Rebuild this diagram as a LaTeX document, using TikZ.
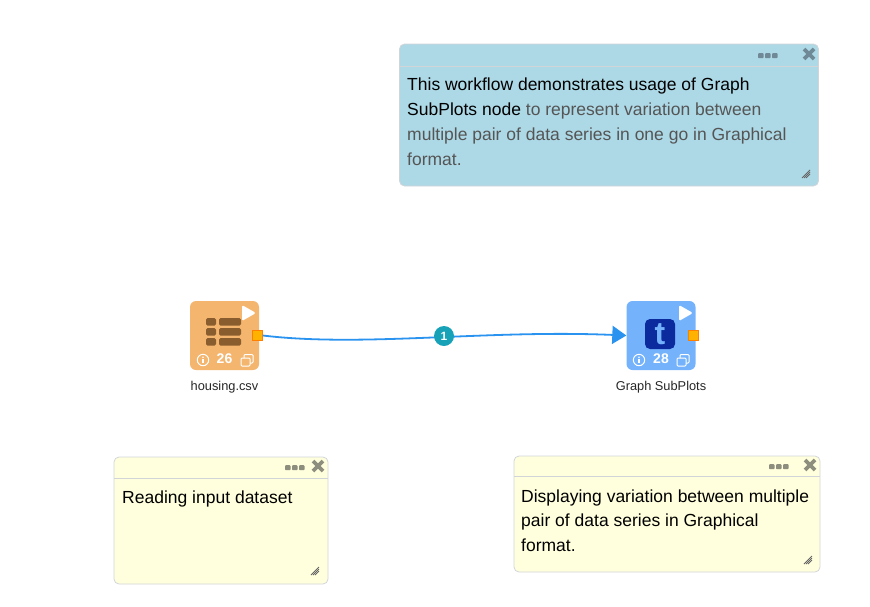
\documentclass[tikz,border=0pt]{standalone}
\usepackage{fontspec}
\setmainfont{Liberation Sans}
\usetikzlibrary{arrows.meta,positioning}
\definecolor{NoteBlue}{HTML}{ADD8E6}
\definecolor{NoteYellow}{HTML}{FFFFDD}
\definecolor{NoteEdge}{HTML}{D2D5D8}
\definecolor{ToolGray}{HTML}{8E8E7E}
\definecolor{ToolBlue}{HTML}{6F8A96}
\definecolor{FileOrange}{HTML}{F4B56F}
\definecolor{TableBrown}{HTML}{8A5D2E}
\definecolor{GraphBlue}{HTML}{74B3FC}
\definecolor{LogoBlue}{HTML}{0A2A9E}
\definecolor{PortOrange}{HTML}{FFB300}
\definecolor{LinkBlue}{HTML}{2A93F0}
\definecolor{BadgeTeal}{HTML}{17A2B8}
\definecolor{BodyGray}{HTML}{555555}
\tikzset{
  note/.style={draw=NoteEdge,rounded corners=5pt,line width=0.8pt,inner sep=0pt},
  notetext/.style={anchor=north west,align=left,inner sep=0pt,font=\fontsize{17.5}{25}\selectfont},
  tile/.style={rounded corners=6pt,minimum width=69pt,minimum height=69pt,inner sep=0pt},
  port/.style={draw=orange,fill=PortOrange,line width=0.6pt,minimum size=10pt,inner sep=0pt},
  tilelabel/.style={font=\fontsize{12.8}{14}\selectfont,text=black!85},
  count/.style={text=white,font=\bfseries\fontsize{14}{15}\selectfont,inner sep=0pt},
  link/.style={LinkBlue,line width=1.8pt},
  pics/toolbar/.style n args={3}{code={
    \foreach \dx in {0,7,14}
      \fill[#1,rounded corners=0.8pt] (#2+\dx-3,-2.8) rectangle (#2+\dx+2.5,2.2);
    \draw[#1,line width=3.6pt] (#3-5,-7) -- (#3+5,3) (#3-5,3) -- (#3+5,-7);
  }},
  pics/grip/.style={code={
    \foreach \d in {0,2,4}
      \draw[black!60,line width=0.8pt] (\d-4,4) -- (4,\d-4);
  }},
  pics/tilerow/.style={code={
    \draw[white,line width=1pt] (0,0) circle (5.7);
    \fill[white] (0,-2.8) circle (0.9);
    \draw[white,line width=1.2pt] (0,-0.8) -- (0,3);
    \draw[white,line width=1pt,rounded corners=1pt] (38,-2) rectangle (47,6);
    \draw[white,line width=1pt,rounded corners=1pt] (41,-2) -- (41,-5.5) -- (50,-5.5) -- (50,3) -- (47,3);
  }},
  pics/playmark/.style={code={
    \fill[white,rounded corners=1.5pt] (-7,-8) -- (7,0) -- (-7,8) -- cycle;
  }}
}
\begin{document}
\begin{tikzpicture}[x=1pt,y=-1pt]
  \useasboundingbox (0,0) rectangle (870,606);
  % notes
  \node[note,fill=NoteBlue,minimum width=419pt,minimum height=142pt] (notetop) at (609,115) {};
  \draw[NoteEdge,line width=0.8pt] (notetop.west |- 0,66) -- (notetop.east |- 0,66);
  \pic at (0,56) {toolbar={ToolBlue}{761}{809}};
  \pic at (806,174) {grip};
  \node[notetext] (notetoptext) at (407,78) {This workflow demonstrates usage of Graph\\SubPlots node \textcolor{BodyGray}{to represent variation between}\\\textcolor{BodyGray}{multiple pair of data series in one go in Graphical}\\\textcolor{BodyGray}{format.}};

  \node[note,fill=NoteYellow,minimum width=214pt,minimum height=127pt] (noteread) at (221,520.5) {};
  \draw[NoteEdge,line width=0.8pt] (noteread.west |- 0,478) -- (noteread.east |- 0,478);
  \pic at (0,468) {toolbar={ToolGray}{288}{318}};
  \pic at (315,571) {grip};
  \node[notetext] (notereadtext) at (122,490.5) {Reading input dataset};

  \node[note,fill=NoteYellow,minimum width=306pt,minimum height=116pt] (noteshow) at (667,514) {};
  \draw[NoteEdge,line width=0.8pt] (noteshow.west |- 0,476) -- (noteshow.east |- 0,476);
  \pic at (0,467) {toolbar={ToolGray}{772}{810}};
  \pic at (808,560) {grip};
  \node[notetext,font=\fontsize{17.5}{24.5}\selectfont] (noteshowtext) at (521,489.5) {Displaying variation between multiple\\pair of data series in Graphical\\format.};

  % housing.csv
  \node[tile,fill=FileOrange] (housing) at (224.5,335.5) {};
  \foreach \y in {318,328,338} {
    \fill[TableBrown,rounded corners=1.5pt] (206,\y) rectangle (216,\y+7.5);
    \fill[TableBrown,rounded corners=1.5pt] (219,\y) rectangle (241,\y+7.5);
  }
  \pic at (249,313) {playmark};
  \pic at (203,360) {tilerow};
  \node[count] (housingcount) at (224.5,359) {26};
  \node[port] (housingport) at (257.5,335.5) {};
  \node[tilelabel] (housinglabel) at (224.5,387) {housing.csv};

  % Graph SubPlots
  \node[tile,fill=GraphBlue] (graph) at (661,335.5) {};
  \node[fill=LogoBlue,rounded corners=5pt,minimum width=30pt,minimum height=30pt,inner sep=0pt,text=GraphBlue,font=\bfseries\fontsize{32}{32}\selectfont] (graphlogo) at (660,334) {t};
  \pic at (686,313) {playmark};
  \pic at (639,360) {tilerow};
  \node[count] (graphcount) at (661,359) {28};
  \node[port] (graphport) at (693.5,335.5) {};
  \node[tilelabel] (graphlabel) at (661,387) {Graph SubPlots};

  % connector
  \draw[link,-{Stealth[length=14pt,width=18pt,inset=0pt]}] (housingport.east) .. controls +(100,12) and +(-140,-6) .. (graph.west);
  \node[circle,fill=BadgeTeal,text=white,minimum size=20pt,inner sep=0pt,font=\bfseries\fontsize{12}{14}\selectfont] (linkbadge) at (444,336) {1};
\end{tikzpicture}
\end{document}
